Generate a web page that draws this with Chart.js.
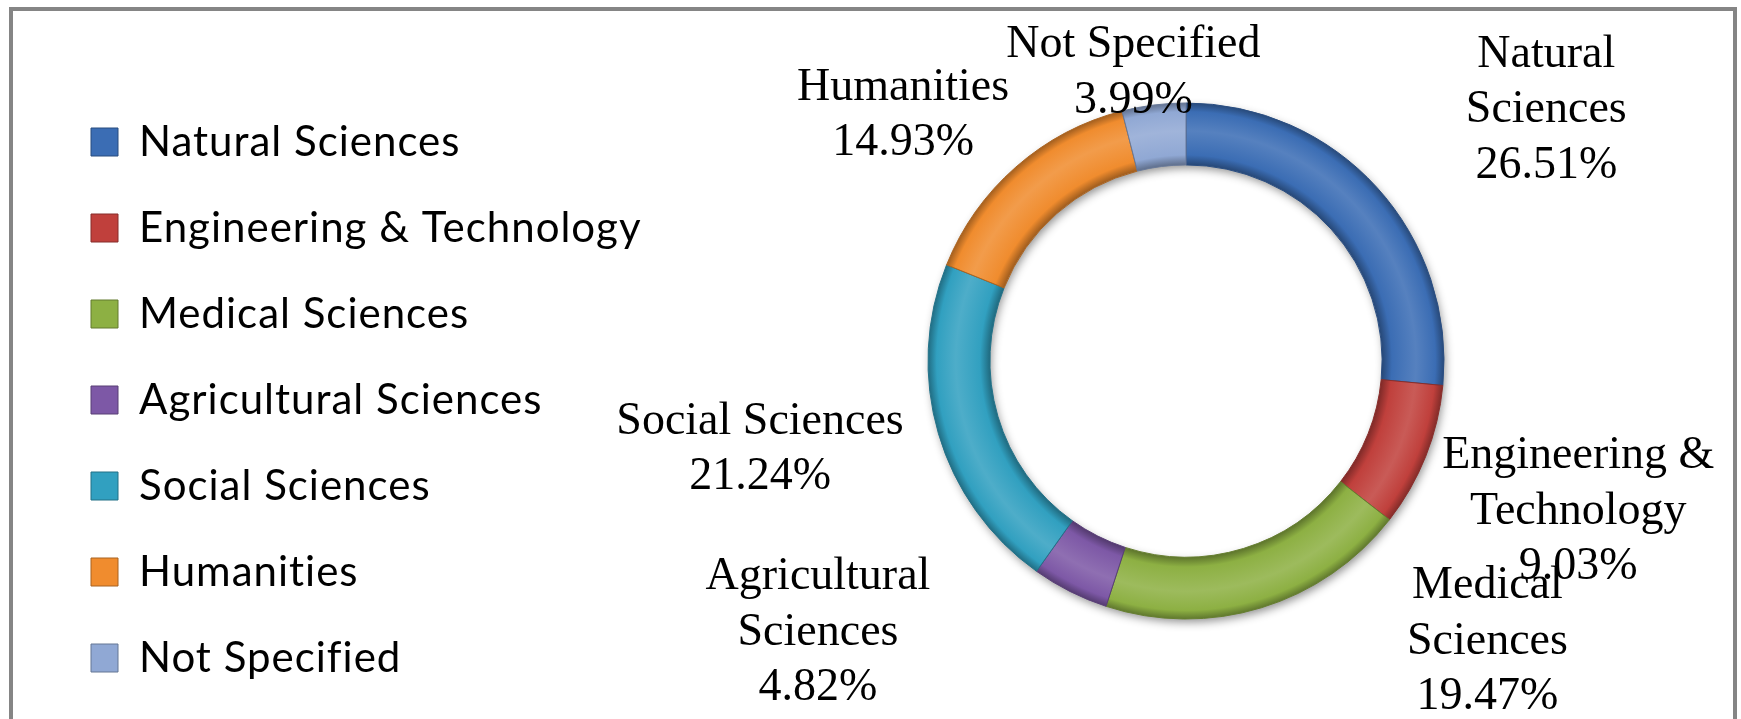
<!DOCTYPE html>
<html>
<head>
<meta charset="utf-8">
<title>Distribution by field</title>
<script src="https://cdn.jsdelivr.net/npm/chart.js@4.4.1/dist/chart.umd.min.js"></script>
<style>
  html, body { margin: 0; padding: 0; background: #fff; overflow: hidden; }
  body { width: 1741px; height: 719px; position: relative; }
  #frame { position: absolute; left: 9px; top: 7px; width: 1728px; height: 780px;
           border: 4px solid #858585; box-sizing: border-box; }
  #chart { position: absolute; left: 0; top: -40px; }
</style>
</head>
<body>
<div id="frame"></div>
<canvas id="chart" width="1741" height="802"></canvas>
<script>
const categories = ["Natural Sciences", "Engineering & Technology", "Medical Sciences",
  "Agricultural Sciences", "Social Sciences", "Humanities", "Not Specified"];
const shares = [26.51, 9.03, 19.47, 4.82, 21.24, 14.93, 3.99];
const sliceColors = ["#3b6db4", "#c0403c", "#8db043", "#7d58a6", "#31a0c0", "#f08c2e", "#90a8d4"];

// nudges for the data labels, Excel's best fit pushed some of them around
const labelShift = [[101, -18], [15, 15], [199, -62], [-196, -49], [-29, -8], [-35, -6], [-3, 30]];

const shiftY = 40;            // canvas sits 40px above the page top
const canvasH = 802;
const centerX = 1186;
const centerY = 361 + shiftY;
const ringRadius = 258;
const legendSize = 42;
const legendPad = 44;
const legendSpacing = "1px";
const boxW = 27;
const labelFont = "46px 'Liberation Serif'";
const labelLine = 55.5;
const labelDrop = 5;
const wrapWidth = 300;

function shade(hex, f) {
  const n = parseInt(hex.slice(1), 16);
  const ch = [n >> 16, (n >> 8) & 255, n & 255].map(v => Math.round(Math.min(255, v * f)));
  return `rgb(${ch[0]},${ch[1]},${ch[2]})`;
}
function tint(hex, t) {
  const n = parseInt(hex.slice(1), 16);
  const ch = [n >> 16, (n >> 8) & 255, n & 255].map(v => Math.round(v + (255 - v) * t));
  return `rgb(${ch[0]},${ch[1]},${ch[2]})`;
}

// legend sits left, work out the padding so the ring lands where it should
const probe = document.createElement("canvas").getContext("2d");
probe.font = legendSize + "px Lato";
probe.letterSpacing = legendSpacing;
const longest = Math.max(...categories.map(t => probe.measureText(t).width));
const padLeft = 91 - legendPad;
const legendWidth = legendPad + boxW + legendSize / 2 + longest + 10;
const areaLeft = padLeft + legendWidth;
const padRight = 1741 - (2 * centerX - areaLeft);
const titleGap = (142 + shiftY) - legendPad - legendSize / 2;

function ringFill(context) {
  const chart = context.chart;
  const area = chart.chartArea;
  const base = sliceColors[context.dataIndex];
  if (!area) return base;
  const ctrl = chart.getDatasetMeta(context.datasetIndex).controller;
  if (!ctrl.outerRadius) return base;
  const x = (area.left + area.right) / 2, y = (area.top + area.bottom) / 2;
  const g = chart.ctx.createRadialGradient(x, y, ctrl.innerRadius, x, y, ctrl.outerRadius);
  g.addColorStop(0, shade(base, 0.66));
  g.addColorStop(0.16, base);
  g.addColorStop(0.55, tint(base, 0.14));
  g.addColorStop(0.86, base);
  g.addColorStop(1, shade(base, 0.68));
  return g;
}

function wrap(ctx, text, maxW) {
  const words = text.split(" ");
  const lines = [];
  let cur = "";
  words.forEach(w => {
    const test = cur ? cur + " " + w : w;
    if (cur && ctx.measureText(test).width > maxW) {
      lines.push(cur);
      cur = w;
    } else {
      cur = test;
    }
  });
  if (cur) lines.push(cur);
  return lines;
}

// the legend font in the original is spaced a little wider
const legendLetters = {
  id: "legendLetters",
  beforeLayout(chart) { chart.ctx.letterSpacing = legendSpacing; },
  beforeDraw(chart) { chart.ctx.letterSpacing = legendSpacing; }
};

const ringShadow = {
  id: "ringShadow",
  beforeDatasetsDraw(chart) {
    const arc = chart.getDatasetMeta(0).data[0];
    if (!arc) return;
    const c = chart.ctx;
    c.save();
    c.shadowColor = "rgba(0,0,0,0.45)";
    c.shadowBlur = 10;
    c.shadowOffsetX = 2;
    c.shadowOffsetY = 4;
    c.beginPath();
    c.arc(arc.x, arc.y, arc.outerRadius - 1, 0, Math.PI * 2);
    c.arc(arc.x, arc.y, arc.innerRadius + 1, 0, Math.PI * 2, true);
    c.fillStyle = "#6f6f6f";
    c.fill();
    c.restore();
  }
};

const outsideLabels = {
  id: "outsideLabels",
  afterDatasetsDraw(chart) {
    const c = chart.ctx;
    const arcs = chart.getDatasetMeta(0).data;
    c.save();
    c.letterSpacing = "0px";
    c.font = labelFont;
    c.fillStyle = "#000";
    c.textAlign = "center";
    c.textBaseline = "middle";
    arcs.forEach((arc, i) => {
      const lines = wrap(c, categories[i], wrapWidth).concat(shares[i].toFixed(2) + "%");
      const w = Math.max(...lines.map(l => c.measureText(l).width));
      const h = lines.length * labelLine;
      const mid = (arc.startAngle + arc.endAngle) / 2;
      const dx = Math.cos(mid), dy = Math.sin(mid);
      const r = arc.outerRadius + 12;
      const cx = arc.x + dx * r + dx * w / 2 + labelShift[i][0];
      const cy = arc.y + dy * r + dy * h / 2 + labelShift[i][1] + labelDrop;
      lines.forEach((line, k) => {
        c.fillText(line, cx, cy - h / 2 + labelLine / 2 + k * labelLine);
      });
    });
    c.restore();
  }
};

Chart.defaults.font.family = "Lato";

new Chart(document.getElementById("chart"), {
  type: "doughnut",
  data: {
    labels: categories,
    datasets: [{
      data: shares,
      backgroundColor: ringFill,
      borderColor: sliceColors.map(col => shade(col, 0.72)),
      borderWidth: 1
    }]
  },
  options: {
    responsive: false,
    animation: false,
    events: [],
    devicePixelRatio: 1,
    radius: ringRadius,
    cutout: "76%",
    layout: {
      padding: { left: padLeft, right: padRight, top: 0, bottom: canvasH - 2 * centerY }
    },
    plugins: {
      tooltip: { enabled: false },
      legend: {
        position: "left",
        align: "start",
        title: { display: true, text: "", padding: 0, font: { size: titleGap, lineHeight: 1 } },
        labels: {
          boxWidth: boxW,
          boxHeight: 28,
          padding: legendPad,
          color: "#000",
          font: { family: "Lato", size: legendSize },
          generateLabels(chart) {
            const items = Chart.overrides.doughnut.plugins.legend.labels.generateLabels(chart);
            return items.map((item, i) => Object.assign(item, {
              fillStyle: sliceColors[i],
              strokeStyle: shade(sliceColors[i], 0.7),
              lineWidth: 1
            }));
          }
        }
      }
    }
  },
  plugins: [legendLetters, ringShadow, outsideLabels]
});
</script>
</body>
</html>
